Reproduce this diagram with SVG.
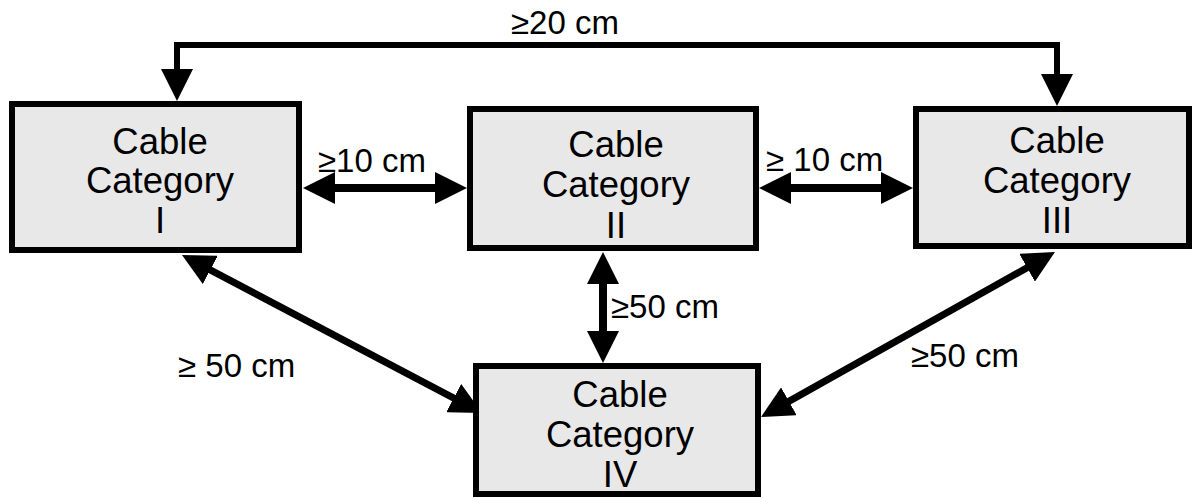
<svg xmlns="http://www.w3.org/2000/svg" width="1192" height="499" viewBox="0 0 1192 499">
<style>
.box{fill:#e8e8e8;stroke:#000;stroke-width:6}
.t{font-family:"Liberation Sans",Arial,sans-serif;font-size:36.5px;fill:#000;text-anchor:middle}
.l{font-family:"Liberation Sans",Arial,sans-serif;font-size:33px;fill:#000}
.c{fill:none;stroke:#000;stroke-linejoin:miter;marker-start:url(#ah);marker-end:url(#ah)}
</style>
<defs>
<marker id="ah" viewBox="0 0 32 32" refX="20" refY="16" markerWidth="32" markerHeight="32" markerUnits="userSpaceOnUse" orient="auto-start-reverse">
<path d="M0,0 L32,16 L0,32 z" fill="#000"/>
</marker>
</defs>
<g id="connectors">
<path class="c" stroke-width="6" d="M177,89 L177,45 L1057,45 L1057,94"/>
<path class="c" stroke-width="8" d="M315,188 L455,188"/>
<path class="c" stroke-width="8" d="M771,188 L901,188"/>
<path class="c" stroke-width="8" d="M603,264 L603,351"/>
<path class="c" stroke-width="7" d="M192.6,260.6 L471.4,407.4"/>
<path class="c" stroke-width="7" d="M1044.5,257.9 L771.5,411.1"/>
<text class="l" x="511" y="34">≥20 cm</text>
<text class="l" x="318" y="172">≥10 cm</text>
<text class="l" x="766" y="171">≥ 10 cm</text>
<text class="l" x="611" y="318">≥50 cm</text>
<text class="l" x="178" y="377">≥ 50 cm</text>
<text class="l" x="911" y="367">≥50 cm</text>
</g>
<g id="node-I">
<rect class="box" x="12" y="104" width="287" height="146"/>
<text class="t" x="160" y="154">Cable</text>
<text class="t" x="160" y="193">Category</text>
<text class="t" x="160" y="233">I</text>
</g>
<g id="node-II">
<rect class="box" x="470" y="109" width="286" height="139"/>
<text class="t" x="616" y="157">Cable</text>
<text class="t" x="616" y="197">Category</text>
<text class="t" x="616" y="238">II</text>
</g>
<g id="node-III">
<rect class="box" x="916" y="109" width="273" height="137"/>
<text class="t" x="1057" y="153">Cable</text>
<text class="t" x="1057" y="193">Category</text>
<text class="t" x="1057" y="233">III</text>
</g>
<g id="node-IV">
<rect class="box" x="476" y="366" width="282" height="128"/>
<text class="t" x="620" y="407">Cable</text>
<text class="t" x="620" y="447">Category</text>
<text class="t" x="620" y="487">IV</text>
</g>
</svg>
